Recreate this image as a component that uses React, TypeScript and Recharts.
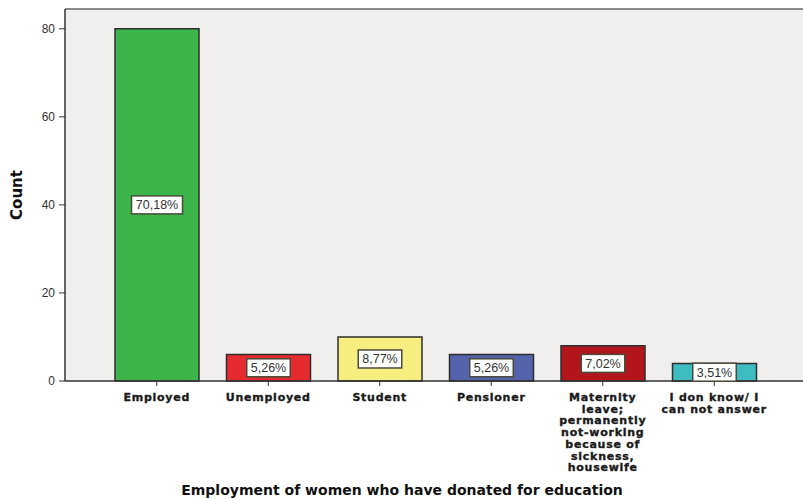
import { BarChart, Bar, XAxis, YAxis, CartesianGrid, Cell, LabelList, ReferenceLine } from 'recharts';

const categories = [
  'Employed',
  'Unemployed',
  'Student',
  'Pensioner',
  'Maternity\nleave;\npermanently\nnot-working\nbecause of\nsickness,\nhousewife',
  'I don know/ I\ncan not answer',
];
const counts = [80, 6, 10, 6, 8, 4];
const percents = ['70,18%', '5,26%', '8,77%', '5,26%', '7,02%', '3,51%'];
const colors = ['#3bb44a', '#e52b2f', '#f6ef80', '#5563ad', '#b2151c', '#3fbcc0'];
const yTicks = [0, 20, 40, 60, 80];
const yMax = 84.5;

const data = categories.map((name, i) => ({ name, count: counts[i], pct: percents[i] }));

const boldFont = '"DejaVu Sans", Verdana, sans-serif';

const CategoryTick = ({ x, y, payload }: any) => {
  const lines = String(payload.value).split('\n');
  return (
    <text x={x} y={y + 13} textAnchor="middle" fill="#1a1a1a" stroke="#1a1a1a" strokeWidth={0.35} fontFamily={boldFont} fontWeight="bold" fontSize={11} letterSpacing={0.75}>
      {lines.map((line, i) => (
        <tspan key={i} x={x} dy={i === 0 ? 0 : 11.7}>{line}</tspan>
      ))}
    </text>
  );
};

const PercentLabel = ({ x, y, width, height, value }: any) => {
  const cx = x + width / 2;
  const cy = y + height / 2;
  const w = String(value).length * 7.5 + 6;
  return (
    <g>
      <rect x={cx - w / 2} y={cy - 9} width={w} height={18} fill="#ffffff" stroke="#4a4a3a" strokeWidth={1.5} />
      <text x={cx} y={cy + 4.5} textAnchor="middle" fill="#333" fontFamily='"Liberation Sans", Arial, sans-serif' fontSize={12.5}>
        {value}
      </text>
    </g>
  );
};

const TitleLabel = ({ viewBox }: any) => (
  <text x={viewBox.x + viewBox.width / 2 - 32} y={495} textAnchor="middle" fill="#111" fontFamily={boldFont} fontWeight="bold" fontSize={14}>
    Employment of women who have donated for education
  </text>
);

export default function App() {
  return (
    <div style={{ position: 'absolute', left: 0, top: 0, width: 803, height: 499, background: '#fff' }}>
      <BarChart width={803} height={499} data={data} margin={{ top: 9, right: 0, bottom: 0, left: 0 }}>
        <CartesianGrid fill="#f0efee" horizontal={false} vertical={false} />
        <ReferenceLine y={yMax} stroke="#8a8a8a" strokeWidth={2} />
        <XAxis
          dataKey="name"
          interval={0}
          height={118}
          padding={{ left: 36, right: 33 }}
          axisLine={{ stroke: '#333', strokeWidth: 1.5 }}
          tickLine={{ stroke: '#333' }}
          tickSize={5}
          tick={<CategoryTick />}
          label={<TitleLabel />}
        />
        <YAxis
          domain={[0, yMax]}
          ticks={yTicks}
          width={65}
          axisLine={{ stroke: '#333', strokeWidth: 1.5 }}
          tickLine={{ stroke: '#333' }}
          tickSize={6}
          tickMargin={4}
          tick={{ fill: '#333', fontSize: 12, fontFamily: '"Liberation Sans", Arial, sans-serif' }}
          label={{ value: 'Count', angle: -90, position: 'insideLeft', offset: 17, style: { fill: '#111', fontWeight: 'bold', fontSize: 15, fontFamily: boldFont, textAnchor: 'middle' } }}
        />
        <Bar dataKey="count" barSize={84} stroke="#2e2e2e" strokeWidth={1.5} isAnimationActive={false}>
          {data.map((d, i) => (
            <Cell key={d.name} fill={colors[i]} />
          ))}
          <LabelList dataKey="pct" content={<PercentLabel />} />
        </Bar>
      </BarChart>
    </div>
  );
}
